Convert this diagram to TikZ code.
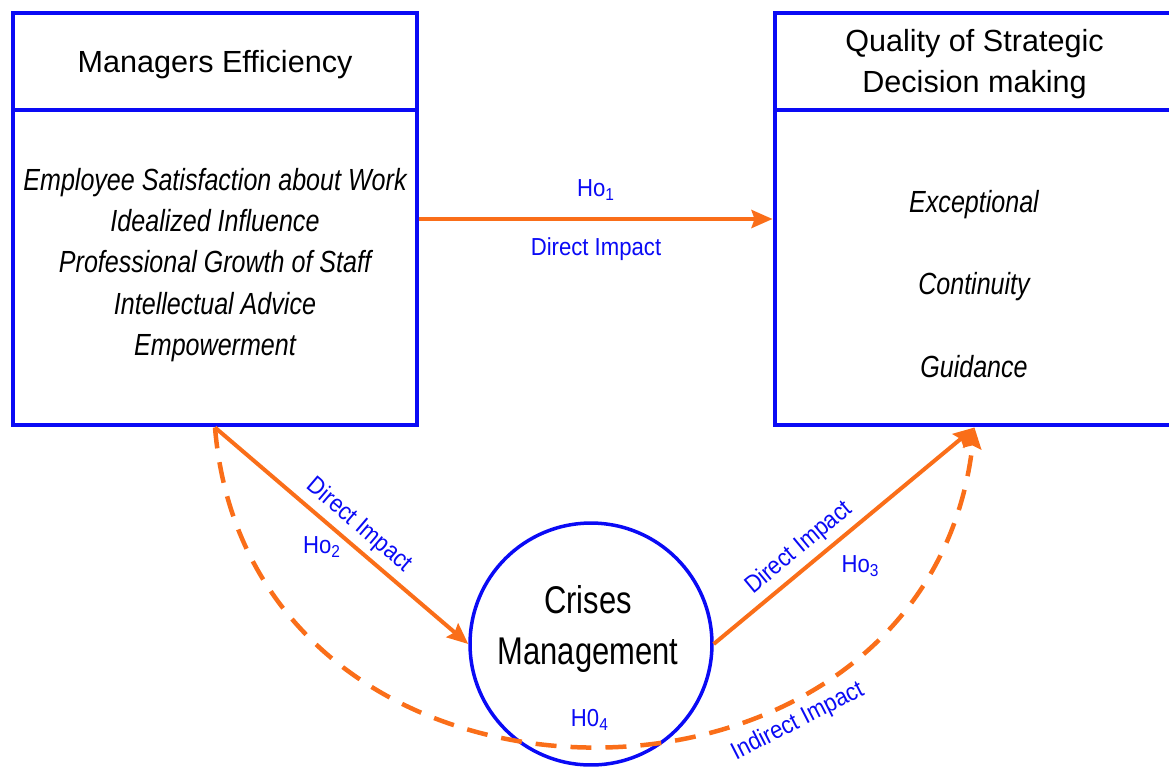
\documentclass[tikz,border=0pt]{standalone}
\usepackage{fontspec}
\setmainfont{Liberation Sans}
\newfontfamily\narrowfont[FakeStretch=0.82]{Liberation Sans}
\newfontfamily\labelfont[FakeStretch=0.9]{Liberation Sans}
\newfontfamily\circfont[FakeStretch=0.8]{Liberation Sans}
\usetikzlibrary{arrows.meta}

\definecolor{frameblue}{RGB}{10,10,245}
\definecolor{arroworange}{RGB}{250,110,25}

\tikzstyle{block}=[rectangle,draw=frameblue,line width=0.08cm,minimum width=8.1cm,inner sep=0pt]
\tikzstyle{heading}=[block,minimum height=1.95cm,text depth=0pt,font=\fontsize{17.4}{23.2}\selectfont,align=center]
\tikzstyle{items}=[font=\narrowfont\itshape\fontsize{17.4}{23.4}\selectfont,align=center]
\tikzstyle{crisis}=[circle,draw=frameblue,line width=0.07cm,minimum size=4.84cm,inner sep=0pt]
\tikzstyle{impact}=[draw=arroworange,line width=0.08cm]
\tikzstyle{lbl}=[text=frameblue,font=\labelfont\fontsize{14}{16}\selectfont]

\begin{document}
\begin{tikzpicture}[x=0.02cm,y=-0.02cm,>={Stealth[length=0.42cm,width=0.36cm,inset=0.06cm]}]
	\useasboundingbox (0,0) rectangle (1169,772);

	% left box
	\node[block,minimum height=8.26cm] (me) at (215,219) {};
	\node[heading,anchor=north] (metitle) at (me.north) {Managers Efficiency};
	\node[items] (meitems) at (215,265) {Employee Satisfaction about Work\\Idealized Influence\\Professional Growth of Staff\\Intellectual Advice\\Empowerment};

	% right box
	\node[block,minimum width=8cm,minimum height=8.26cm] (qd) at (974.5,219) {};
	\node[heading,minimum width=8cm,anchor=north] (qdtitle) at (qd.north) {Quality of Strategic\\Decision making};
	\node[items] (qditems) at (974,284) {Exceptional\\[23.6pt]Continuity\\[23.6pt]Guidance};

	% mediator
	\node[crisis] (cm) at (591,644) {};
	\node[font=\circfont\fontsize{22}{29}\selectfont,align=center] (cmtext) at (588,629) {Crises\\Management};

	\draw[->,impact] (me.east) -- node[lbl,above=6pt] {Ho\textsubscript{1}} node[lbl,below=6pt] {Direct Impact} (qd.west);
	\draw[->,impact] (me.south) -- node[lbl,sloped,above,pos=0.52] {Direct Impact} node[lbl,below left=-4pt,pos=0.5] {Ho\textsubscript{2}} (cm.west);
	\draw[->,impact] (cm.east) -- node[lbl,sloped,above,pos=0.375] {Direct Impact} node[lbl,below right,yshift=-2pt,pos=0.46] {Ho\textsubscript{3}} (qd.south);
	\draw[->,impact,line width=0.09cm,dash pattern=on 0.42cm off 0.28cm] (me.south) .. controls +(35,424) and +(-48,424) .. node[lbl,sloped,below=3pt,pos=0.69] {Indirect Impact} node[lbl,above=4pt,pos=0.5] {H0\textsubscript{4}} (qd.south);
\end{tikzpicture}
\end{document}
